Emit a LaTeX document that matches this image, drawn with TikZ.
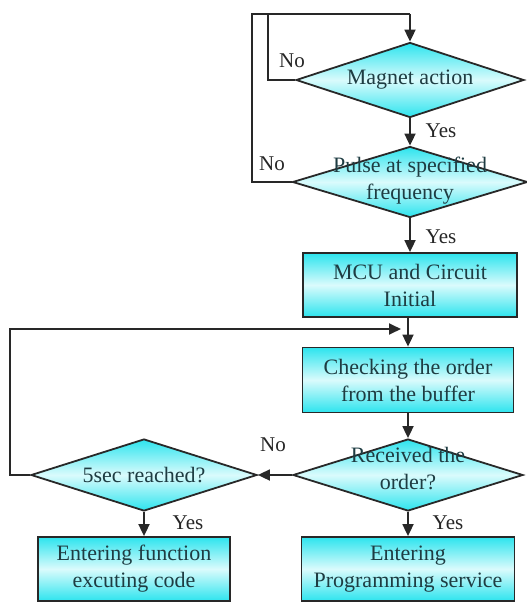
\documentclass[tikz,border=0pt]{standalone}
\usepackage{fontspec}
\setmainfont{LiberationSerif}[Extension=.ttf,UprightFont=*-Regular]
\usetikzlibrary{shapes.geometric,arrows.meta}
\definecolor{cyc}{RGB}{45,228,238}
\definecolor{cyl}{RGB}{218,251,252}
\definecolor{txc}{RGB}{30,60,66}
\definecolor{lnc}{RGB}{40,40,40}
\tikzset{
  x=1pt,y=-1pt,
  fillsh/.style={top color=cyc,bottom color=cyc,middle color=cyl,draw=lnc,line width=1.8pt},
  boxnode/.style={fillsh,rectangle,inner sep=0pt},
  dianode/.style={fillsh,diamond,inner sep=0pt},
  txt/.style={text=txc,font=\fontsize{22}{27}\selectfont,align=center},
  lbl/.style={text=black!85,font=\fontsize{21}{25}\selectfont,inner sep=0pt},
  conn/.style={draw=lnc,line width=1.8pt},
  arr/.style={conn,-{Triangle[length=12pt,width=11pt]}},
}
\begin{document}
\begin{tikzpicture}
\useasboundingbox (0,0) rectangle (527,602);
% nodes
\node[dianode,minimum width=228pt,minimum height=75pt] (d1) at (410,80) {};
\node[txt] (t1) at (d1.center) {Magnet action};
\node[dianode,minimum width=235pt,minimum height=71pt] (d2) at (410,182) {};
\node[txt] (t2) at (410,181) {Pulse at specified\\frequency};
\node[boxnode,minimum width=214pt,minimum height=64pt] (b1) at (410,285) {};
\node[txt] (t3) at (b1.center) {MCU and Circuit\\Initial};
\node[boxnode,minimum width=211pt,minimum height=65pt] (b2) at (408,380) {};
\node[txt] (t4) at (b2.center) {Checking the order\\from the buffer};
\node[dianode,minimum width=230pt,minimum height=72pt] (d3) at (408,475) {};
\node[txt] (t5) at (408,469) {Received the\\order?};
\node[dianode,minimum width=226pt,minimum height=72pt] (d4) at (144,475) {};
\node[txt] (t6) at (d4.center) {5sec reached?};
\node[boxnode,minimum width=192pt,minimum height=64pt] (b3) at (134,569) {};
\node[txt] (t7) at (b3.center) {Entering function\\excuting code};
\node[boxnode,minimum width=213pt,minimum height=64pt] (b4) at (408,569) {};
\node[txt] (t8) at (b4.center) {Entering\\Programming service};
% coordinates
\coordinate (top) at (410,14);
\coordinate (join) at (401,329);
% connectors
\draw[conn] (d1.west) -- ++(-27,0) |- (top);
\draw[conn] (d2.west) -- ++(-40,0) |- (top);
\draw[arr] (top) -- (d1.north);
\draw[arr] (d1.south) -- (d2.north);
\draw[arr] (d2.south) -- (b1.north);
\draw[arr] (b1.south -| b2.north) -- (b2.north);
\draw[arr] (b2.south) -- (d3.north);
\draw[arr] (d3.west) -- (d4.east);
\draw[arr] (d4.west) -- ++(-20,0) |- (join);
\draw[arr] (d4.south) -- (d4.south |- b3.north);
\draw[arr] (d3.south) -- (b4.north);
% labels
\node[lbl] (n1) at (292,61) {No};
\node[lbl] (n2) at (272,164) {No};
\node[lbl] (n3) at (273,445) {No};
\node[lbl] (y1) at (441,131) {Yes};
\node[lbl] (y2) at (441,237) {Yes};
\node[lbl] (y3) at (188,523) {Yes};
\node[lbl] (y4) at (448,523) {Yes};
\end{tikzpicture}
\end{document}
